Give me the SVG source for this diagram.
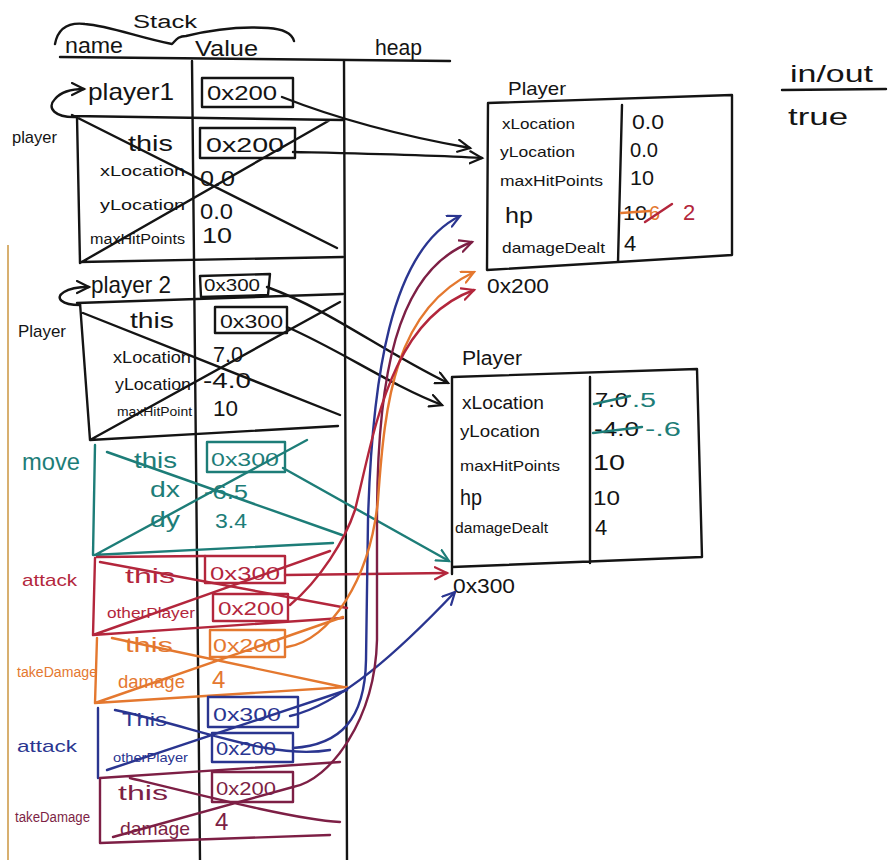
<svg xmlns="http://www.w3.org/2000/svg" width="889" height="860" viewBox="0 0 889 860">
<defs>
<style>
.ln{fill:none;stroke-width:2.4;stroke-linecap:round;stroke-linejoin:round}
.k{stroke:#141414}.te{stroke:#1d7d78}.cr{stroke:#b3263c}.or{stroke:#e4782f}.bl{stroke:#2a3590}.ma{stroke:#7d1f45}
text{font-family:"Liberation Sans",Arial,sans-serif;fill:#141414}
.tte{fill:#1d7d78}.tcr{fill:#b3263c}.tor{fill:#e4782f}.tbl{fill:#2a3590}.tma{fill:#7d1f45}
</style>
<marker id="ak" markerUnits="userSpaceOnUse" markerWidth="16" markerHeight="16" refX="13" refY="7" orient="auto"><path d="M1,1 L13,7 L1,13" fill="none" stroke="#141414" stroke-width="2.2" stroke-linecap="round"/></marker>
<marker id="ate" markerUnits="userSpaceOnUse" markerWidth="16" markerHeight="16" refX="13" refY="7" orient="auto"><path d="M1,1 L13,7 L1,13" fill="none" stroke="#1d7d78" stroke-width="2.2" stroke-linecap="round"/></marker>
<marker id="acr" markerUnits="userSpaceOnUse" markerWidth="16" markerHeight="16" refX="13" refY="7" orient="auto"><path d="M1,1 L13,7 L1,13" fill="none" stroke="#b3263c" stroke-width="2.2" stroke-linecap="round"/></marker>
<marker id="aor" markerUnits="userSpaceOnUse" markerWidth="16" markerHeight="16" refX="13" refY="7" orient="auto"><path d="M1,1 L13,7 L1,13" fill="none" stroke="#e4782f" stroke-width="2.2" stroke-linecap="round"/></marker>
<marker id="abl" markerUnits="userSpaceOnUse" markerWidth="16" markerHeight="16" refX="13" refY="7" orient="auto"><path d="M1,1 L13,7 L1,13" fill="none" stroke="#2a3590" stroke-width="2.2" stroke-linecap="round"/></marker>
<marker id="ama" markerUnits="userSpaceOnUse" markerWidth="16" markerHeight="16" refX="13" refY="7" orient="auto"><path d="M1,1 L13,7 L1,13" fill="none" stroke="#7d1f45" stroke-width="2.2" stroke-linecap="round"/></marker>
</defs>
<rect width="889" height="860" fill="#ffffff"/>
<line x1="8" y1="245" x2="8" y2="860" stroke="#d8b070" stroke-width="2"/>

<g id="header">
<path class="ln k" d="M55 44 C58 28,68 22,85 24 C110 26,140 38,172 44 C176 40,178 36,186 36 C210 30,240 26,268 28 C285 29,292 34,294 41"/>
<text x="133" y="28" font-size="18" textLength="64" lengthAdjust="spacingAndGlyphs">Stack</text>
<text x="65" y="53" font-size="22" textLength="58" lengthAdjust="spacingAndGlyphs">name</text>
<text x="195" y="56" font-size="22" textLength="63" lengthAdjust="spacingAndGlyphs">Value</text>
<text x="375" y="55" font-size="22" textLength="47" lengthAdjust="spacingAndGlyphs">heap</text>
<path class="ln k" d="M60 57 L450 61"/>
<path class="ln k" d="M192 61 L200 860"/>
<path class="ln k" d="M344 61 L347 860"/>
</g>

<g id="inout">
<text x="790" y="82" font-size="24" textLength="83" lengthAdjust="spacingAndGlyphs">in/out</text>
<path class="ln k" d="M782 90 L886 89"/>
<text x="788" y="125" font-size="24" textLength="60" lengthAdjust="spacingAndGlyphs">true</text>
</g>

<g id="frame-player1">
<path class="ln k" d="M72 116 L343 120 M77 117 L80 263 M80 262 L343 257 M72 115 L337 248 M80 263 L330 120"/>
<path class="ln k" d="M77 117 C55 118,46 108,55 99 C60 93,70 89,84 89" marker-end="url(#ak)"/>
<text x="88" y="100" font-size="24" textLength="86" lengthAdjust="spacingAndGlyphs">player1</text>
<rect class="ln k" x="202" y="78" width="91" height="29"/>
<text x="207" y="100" font-size="20" textLength="70" lengthAdjust="spacingAndGlyphs">0x200</text>
<text x="12" y="143" font-size="17" textLength="45" lengthAdjust="spacingAndGlyphs">player</text>
<text x="128" y="151" font-size="22" textLength="45" lengthAdjust="spacingAndGlyphs">this</text>
<rect class="ln k" x="200" y="128" width="95" height="30"/>
<text x="206" y="152" font-size="20" textLength="78" lengthAdjust="spacingAndGlyphs">0x200</text>
<text x="100" y="176" font-size="15" textLength="85" lengthAdjust="spacingAndGlyphs">xLocation</text>
<text x="200" y="186" font-size="22" textLength="35" lengthAdjust="spacingAndGlyphs">0.0</text>
<text x="100" y="210" font-size="15" textLength="85" lengthAdjust="spacingAndGlyphs">yLocation</text>
<text x="200" y="219" font-size="22" textLength="33" lengthAdjust="spacingAndGlyphs">0.0</text>
<text x="90" y="244" font-size="14" textLength="95" lengthAdjust="spacingAndGlyphs">maxHitPoints</text>
<text x="202" y="243" font-size="22" textLength="30" lengthAdjust="spacingAndGlyphs">10</text>
</g>

<g id="frame-player2">
<path class="ln k" d="M77 303 L343 294 M80 303 L90 440 M90 440 L338 426 M83 313 L340 415 M90 440 L340 302"/>
<path class="ln k" d="M80 305 C62 305,54 298,64 292 C70 288,78 287,89 287" marker-end="url(#ak)"/>
<text x="91" y="293" font-size="24" textLength="80" lengthAdjust="spacingAndGlyphs">player 2</text>
<path class="ln k" d="M200 276 L270 274 L268 295 L201 297 Z"/>
<text x="204" y="291" font-size="17" textLength="56" lengthAdjust="spacingAndGlyphs">0x300</text>
<text x="18" y="337" font-size="17" textLength="48" lengthAdjust="spacingAndGlyphs">Player</text>
<text x="130" y="328" font-size="22" textLength="44" lengthAdjust="spacingAndGlyphs">this</text>
<rect class="ln k" x="215" y="307" width="72" height="26"/>
<text x="220" y="328" font-size="19" textLength="63" lengthAdjust="spacingAndGlyphs">0x300</text>
<text x="113" y="363" font-size="16" textLength="78" lengthAdjust="spacingAndGlyphs">xLocation</text>
<text x="213" y="362" font-size="22" textLength="30" lengthAdjust="spacingAndGlyphs">7.0</text>
<text x="115" y="390" font-size="16" textLength="76" lengthAdjust="spacingAndGlyphs">yLocation</text>
<text x="203" y="388" font-size="22" textLength="48" lengthAdjust="spacingAndGlyphs">-4.0</text>
<text x="117" y="416" font-size="13" textLength="75" lengthAdjust="spacingAndGlyphs">maxHitPoint</text>
<text x="213" y="416" font-size="22" textLength="25" lengthAdjust="spacingAndGlyphs">10</text>
</g>

<g id="frame-move">
<path class="ln te" d="M95 445 L93 555 M93 555 L333 543 M107 452 L342 535 M95 555 L307 440"/>
<text class="tte" x="22" y="470" font-size="24" textLength="58" lengthAdjust="spacingAndGlyphs">move</text>
<text class="tte" x="134" y="468" font-size="22" textLength="43" lengthAdjust="spacingAndGlyphs">this</text>
<rect class="ln te" x="207" y="442" width="78" height="30"/>
<text class="tte" x="211" y="466" font-size="19" textLength="68" lengthAdjust="spacingAndGlyphs">0x300</text>
<text class="tte" x="150" y="497" font-size="22" textLength="30" lengthAdjust="spacingAndGlyphs">dx</text>
<text class="tte" x="204" y="499" font-size="20" textLength="44" lengthAdjust="spacingAndGlyphs">-6.5</text>
<text class="tte" x="150" y="527" font-size="22" textLength="30" lengthAdjust="spacingAndGlyphs">dy</text>
<text class="tte" x="215" y="528" font-size="20" textLength="32" lengthAdjust="spacingAndGlyphs">3.4</text>
</g>

<g id="frame-attack1">
<path class="ln cr" d="M97 557 L205 556 M95 558 L93 635 M93 635 L343 618 M100 562 L347 608 M93 635 L330 551"/>
<text class="tcr" x="22" y="586" font-size="17" textLength="55" lengthAdjust="spacingAndGlyphs">attack</text>
<text class="tcr" x="125" y="583" font-size="20" textLength="50" lengthAdjust="spacingAndGlyphs">this</text>
<rect class="ln cr" x="205" y="556" width="80" height="27"/>
<text class="tcr" x="210" y="580" font-size="18" textLength="70" lengthAdjust="spacingAndGlyphs">0x300</text>
<text class="tcr" x="107" y="618" font-size="14" textLength="88" lengthAdjust="spacingAndGlyphs">otherPlayer</text>
<rect class="ln cr" x="213" y="594" width="75" height="27"/>
<text class="tcr" x="218" y="615" font-size="18" textLength="66" lengthAdjust="spacingAndGlyphs">0x200</text>
</g>

<g id="frame-takeDamage1">
<path class="ln or" d="M97 638 L95 703 M95 703 L347 687 M112 638 L343 687 M95 703 L343 617"/>
<text class="tor" x="17" y="677" font-size="14" textLength="80" lengthAdjust="spacingAndGlyphs">takeDamage</text>
<text class="tor" x="125" y="652" font-size="20" textLength="48" lengthAdjust="spacingAndGlyphs">this</text>
<rect class="ln or" x="210" y="630" width="75" height="27"/>
<text class="tor" x="213" y="652" font-size="18" textLength="68" lengthAdjust="spacingAndGlyphs">0x200</text>
<text class="tor" x="118" y="688" font-size="19" textLength="67" lengthAdjust="spacingAndGlyphs">damage</text>
<text class="tor" x="212" y="688" font-size="24">4</text>
</g>

<g id="frame-attack2">
<path class="ln bl" d="M98 708 L98 778 M115 710 C200 728,270 760,330 750 M107 770 L347 690"/>
<text class="tbl" x="17" y="752" font-size="17" textLength="60" lengthAdjust="spacingAndGlyphs">attack</text>
<text class="tbl" x="122" y="726" font-size="19" textLength="45" lengthAdjust="spacingAndGlyphs">This</text>
<rect class="ln bl" x="208" y="697" width="90" height="30"/>
<text class="tbl" x="213" y="721" font-size="19" textLength="68" lengthAdjust="spacingAndGlyphs">0x300</text>
<text class="tbl" x="113" y="762" font-size="13" textLength="75" lengthAdjust="spacingAndGlyphs">otherPlayer</text>
<rect class="ln bl" x="212" y="733" width="81" height="29"/>
<text class="tbl" x="216" y="755" font-size="18" textLength="60" lengthAdjust="spacingAndGlyphs">0x200</text>
</g>

<g id="frame-takeDamage2">
<path class="ln ma" d="M100 778 L340 762 M100 778 L100 843 M100 843 L330 835 M130 778 C220 800,300 820,340 822 M113 837 L293 787"/>
<text class="tma" x="15" y="822" font-size="14" textLength="75" lengthAdjust="spacingAndGlyphs">takeDamage</text>
<text class="tma" x="118" y="800" font-size="20" textLength="50" lengthAdjust="spacingAndGlyphs">this</text>
<rect class="ln ma" x="212" y="772" width="81" height="30"/>
<text class="tma" x="216" y="795" font-size="18" textLength="60" lengthAdjust="spacingAndGlyphs">0x200</text>
<text class="tma" x="120" y="835" font-size="19" textLength="70" lengthAdjust="spacingAndGlyphs">damage</text>
<text class="tma" x="215" y="830" font-size="24">4</text>
</g>

<g id="heap-0x200">
<text x="508" y="95" font-size="19" textLength="58" lengthAdjust="spacingAndGlyphs">Player</text>
<path class="ln k" d="M488 103 L732 95 L732 255 L487 270 Z M622 105 L618 262"/>
<text x="502" y="129" font-size="15" textLength="73" lengthAdjust="spacingAndGlyphs">xLocation</text>
<text x="632" y="129" font-size="20" textLength="32" lengthAdjust="spacingAndGlyphs">0.0</text>
<text x="500" y="157" font-size="15" textLength="75" lengthAdjust="spacingAndGlyphs">yLocation</text>
<text x="630" y="157" font-size="20" textLength="28" lengthAdjust="spacingAndGlyphs">0.0</text>
<text x="500" y="186" font-size="14" textLength="103" lengthAdjust="spacingAndGlyphs">maxHitPoints</text>
<text x="630" y="185" font-size="20" textLength="24" lengthAdjust="spacingAndGlyphs">10</text>
<text x="505" y="223" font-size="22" textLength="28" lengthAdjust="spacingAndGlyphs">hp</text>
<text x="623" y="220" font-size="20" textLength="24" lengthAdjust="spacingAndGlyphs">10</text>
<path class="ln or" d="M621 213 L650 211"/>
<text class="tor" x="649" y="220" font-size="20">6</text>
<path class="ln cr" d="M645 222 L672 204"/>
<text class="tcr" x="683" y="220" font-size="22">2</text>
<text x="502" y="253" font-size="15" textLength="103" lengthAdjust="spacingAndGlyphs">damageDealt</text>
<text x="624" y="251" font-size="22">4</text>
<text x="487" y="293" font-size="20" textLength="62" lengthAdjust="spacingAndGlyphs">0x200</text>
</g>

<g id="heap-0x300">
<text x="462" y="365" font-size="20" textLength="60" lengthAdjust="spacingAndGlyphs">Player</text>
<path class="ln k" d="M452 377 L697 369 L702 557 L452 567 Z M452 567 L452 574 M590 377 L590 563"/>
<text x="462" y="409" font-size="18" textLength="82" lengthAdjust="spacingAndGlyphs">xLocation</text>
<text x="595" y="407" font-size="20" textLength="33" lengthAdjust="spacingAndGlyphs">7.0</text>
<path class="ln te" d="M594 404 L630 396"/>
<text class="tte" x="632" y="407" font-size="20" textLength="24" lengthAdjust="spacingAndGlyphs">.5</text>
<text x="460" y="437" font-size="17" textLength="80" lengthAdjust="spacingAndGlyphs">yLocation</text>
<text x="594" y="436" font-size="20" textLength="45" lengthAdjust="spacingAndGlyphs">-4.0</text>
<path class="ln te" d="M593 433 L642 427"/>
<text class="tte" x="645" y="436" font-size="20" textLength="36" lengthAdjust="spacingAndGlyphs">-.6</text>
<text x="460" y="471" font-size="15" textLength="100" lengthAdjust="spacingAndGlyphs">maxHitPoints</text>
<text x="593" y="470" font-size="22" textLength="32" lengthAdjust="spacingAndGlyphs">10</text>
<text x="460" y="505" font-size="22" textLength="22" lengthAdjust="spacingAndGlyphs">hp</text>
<text x="593" y="505" font-size="20" textLength="27" lengthAdjust="spacingAndGlyphs">10</text>
<text x="455" y="533" font-size="14" textLength="93" lengthAdjust="spacingAndGlyphs">damageDealt</text>
<text x="595" y="535" font-size="22">4</text>
<text x="453" y="593" font-size="20" textLength="62" lengthAdjust="spacingAndGlyphs">0x300</text>
</g>

<g id="connectors">
<path class="ln k" d="M282 97 C320 112,380 132,470 148" marker-end="url(#ak)"/>
<path class="ln k" d="M293 152 C380 154,430 155,482 158" marker-end="url(#ak)"/>
<path class="ln k" d="M267 287 C330 310,380 350,448 383" marker-end="url(#ak)"/>
<path class="ln k" d="M287 327 C340 350,390 385,442 405" marker-end="url(#ak)"/>
<path class="ln te" d="M283 468 L449 561" marker-end="url(#ate)"/>
<path class="ln cr" d="M285 575 L447 573" marker-end="url(#acr)"/>
<path class="ln bl" d="M290 716 C340 705,400 650,455 592" marker-end="url(#abl)"/>
<path class="ln bl" d="M293 748 C340 745,365 720,366 660 L368 520 C372 380,390 250,460 216" marker-end="url(#abl)"/>
<path class="ln ma" d="M293 787 C330 780,375 720,377 640 L377 520 C377 380,395 270,472 242" marker-end="url(#ama)"/>
<path class="ln or" d="M287 647 C330 640,370 580,378 500 C385 400,395 310,474 272" marker-end="url(#aor)"/>
<path class="ln cr" d="M290 605 C320 580,345 540,355 510 C375 430,390 320,474 290" marker-end="url(#acr)"/>
</g>
</svg>
